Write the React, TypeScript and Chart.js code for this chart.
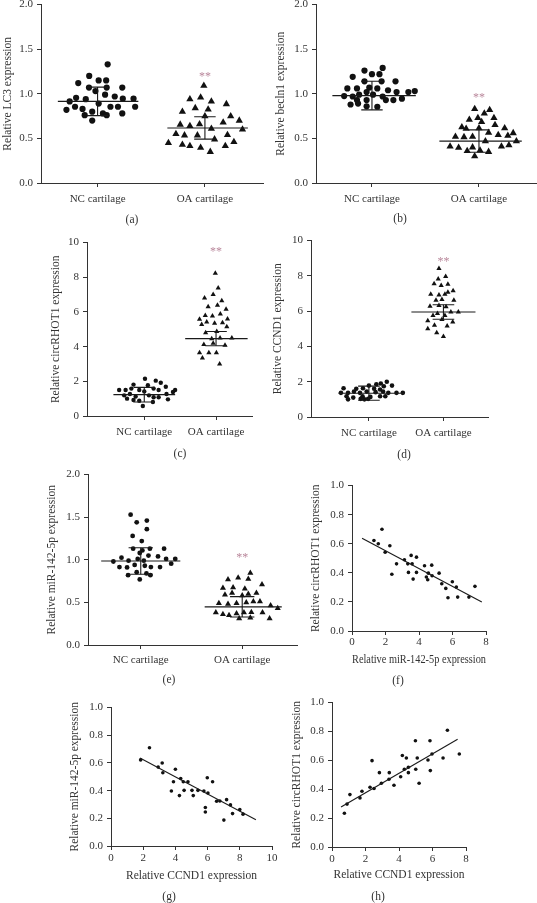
import React, { useEffect, useRef } from 'react';
import { Chart, registerables } from 'chart.js';

Chart.register(...registerables);

// ---------------- DATA ----------------
const groupNames = ['NC cartilage', 'OA cartilage'];

// (a) LC3
const lc3NcValues = [1.33, 1.2, 1.12, 1.15, 1.15, 1.07, 1.07, 1.07, 1.03, 0.99, 0.97, 0.955, 0.94, 0.915, 0.945, 0.945, 0.89, 0.855, 0.83, 0.855, 0.855, 0.855, 0.82, 0.8, 0.78, 0.78, 0.76, 0.76, 0.7];
const lc3NcJitter = [0.094, -0.078, -0.18, 0.01, 0.08, -0.08, 0.085, 0.23, -0.02, 0.07, 0.16, -0.2, -0.11, -0.26, 0.235, 0.335, 0.01, -0.21, -0.14, 0.12, 0.19, 0.35, -0.29, -0.05, 0.05, 0.23, -0.12, 0.085, -0.05];
const lc3OaValues = [1.09, 0.94, 0.96, 0.915, 0.885, 0.84, 0.825, 0.8, 0.75, 0.75, 0.68, 0.655, 0.64, 0.66, 0.7, 0.6, 0.61, 0.55, 0.535, 0.535, 0.54, 0.49, 0.45, 0.43, 0.415, 0.395, 0.415, 0.46, 0.35];
const lc3OaJitter = [-0.01, -0.14, -0.04, 0.06, 0.2, -0.09, 0.03, -0.21, 0, 0.24, 0.17, -0.23, -0.14, -0.05, 0.32, 0.35, 0.06, -0.27, -0.19, -0.07, 0.21, 0.09, -0.34, -0.21, -0.14, -0.04, 0.19, 0.27, 0.05];
const lc3Mean = [0.915, 0.617];
const lc3Sd = [0.16, 0.125];
const lc3Star = 1.22;

// (b) becln1
const beclnNcValues = [1.26, 1.29, 1.19, 1.22, 1.22, 1.14, 1.14, 1.14, 1.06, 1.06, 1.07, 1.06, 1.02, 1.04, 1.02, 1.02, 1.03, 0.975, 0.97, 0.99, 0.99, 0.97, 0.93, 0.93, 0.93, 0.93, 0.945, 0.88, 0.89, 0.86, 0.855];
const beclnNcJitter = [-0.07, 0.1, -0.18, 0, 0.07, -0.07, 0.09, 0.22, -0.23, -0.14, -0.025, 0.05, -0.05, 0.15, 0.23, 0.34, 0.4, -0.26, -0.18, -0.12, 0.01, 0.1, -0.14, -0.05, 0.13, 0.2, 0.28, -0.2, -0.13, -0.05, 0.05];
const beclnOaValues = [0.83, 0.82, 0.78, 0.71, 0.73, 0.73, 0.685, 0.65, 0.625, 0.61, 0.615, 0.615, 0.565, 0.56, 0.52, 0.515, 0.52, 0.54, 0.53, 0.47, 0.47, 0.41, 0.395, 0.4, 0.41, 0.425, 0.36, 0.365, 0.35, 0.3];
const beclnOaJitter = [-0.04, 0.1, 0.05, -0.09, -0.01, 0.14, 0.025, 0.15, -0.16, -0.12, 0, 0.24, 0.09, 0.32, -0.22, -0.14, -0.06, 0.18, 0.27, 0.06, 0.35, -0.27, -0.19, -0.06, 0.21, 0.28, -0.11, 0.01, 0.09, -0.04];
const beclnMean = [0.98, 0.47];
const beclnSd = [0.16, 0.126];
const beclnStar = 0.99;

// (c) circRHOT1
const circNcValues = [2.15, 2.04, 1.92, 1.81, 1.77, 1.69, 1.5, 1.5, 1.58, 1.5, 1.42, 1.58, 1.5, 1.5, 1.38, 1.19, 1.27, 1.12, 1.19, 1.08, 1.27, 1.0, 0.92, 0.88, 1.08, 0.96, 0.81, 0.58];
const circNcJitter = [0.01, 0.16, 0.23, -0.15, 0.05, 0.3, -0.35, -0.26, -0.18, -0.07, 0, 0.13, 0.2, 0.43, 0.4, -0.28, -0.2, -0.12, 0.065, 0.13, 0.31, -0.24, -0.15, -0.07, 0.2, 0.33, 0.12, -0.02];
const circOaValues = [8.23, 7.38, 7.0, 6.8, 6.65, 6.3, 6.38, 6.15, 5.8, 5.77, 5.88, 5.6, 5.58, 5.42, 5.35, 5.38, 5.27, 5.15, 4.8, 4.88, 4.5, 4.46, 4.5, 4.12, 4.19, 4.08, 3.65, 3.65, 3.65, 3.35, 3.0];
const circOaJitter = [-0.01, 0.03, -0.04, -0.16, 0.08, -0.11, 0.02, 0.14, -0.15, -0.05, 0.06, 0.16, -0.23, -0.13, -0.02, 0.09, -0.2, 0.15, -0.145, 0.01, 0.22, -0.06, 0.056, -0.17, -0.04, 0.125, -0.23, -0.1, 0.005, -0.19, 0.05];
const circMean = [1.23, 4.46];
const circSd = [0.42, 0.41];
const circStar = 9.65;

// (d) CCND1
const ccndNcValues = [2.0, 1.9, 1.86, 1.78, 1.74, 1.78, 1.63, 1.6, 1.63, 1.6, 1.56, 1.37, 1.37, 1.44, 1.37, 1.44, 1.41, 1.44, 1.37, 1.37, 1.37, 1.18, 1.1, 1.18, 1.14, 1.18, 1.18, 1.0, 1.03, 1.0, 1.03];
const ccndNcJitter = [0.24, 0.16, 0.1, 0, 0.2, 0.31, -0.34, -0.17, -0.08, 0.07, 0.15, -0.375, -0.28, -0.2, -0.12, -0.03, 0.09, 0.19, 0.26, 0.37, 0.455, -0.3, -0.21, -0.085, 0.02, 0.15, 0.22, -0.28, -0.11, -0.06, -0.01];
const ccndOaValues = [8.42, 7.82, 7.97, 7.56, 7.45, 7.52, 6.96, 6.92, 7.07, 7.15, 6.96, 6.62, 6.66, 6.62, 6.28, 6.32, 6.25, 5.87, 5.95, 5.95, 5.76, 5.76, 5.53, 5.46, 5.38, 5.2, 5.16, 5.0, 4.78, 4.56];
const ccndOaJitter = [-0.06, -0.07, 0.03, -0.125, -0.03, 0.06, -0.17, -0.06, 0.06, 0.13, 0.02, -0.1, -0.02, 0.14, -0.18, -0.06, 0.035, -0.08, 0.1, 0.2, -0.14, 0.02, -0.02, -0.21, 0.125, -0.12, 0.05, -0.21, -0.09, 0];
const ccndMean = [1.35, 5.95];
const ccndSd = [0.4, 0.41];
const ccndStar = 8.95;

// (e) miR-142-5p
const mirNcValues = [1.53, 1.44, 1.46, 1.36, 1.28, 1.22, 1.13, 1.11, 1.13, 1.13, 1.08, 1.05, 1.04, 1.025, 0.99, 1.01, 0.99, 1.01, 1.01, 0.98, 0.955, 0.915, 0.91, 0.94, 0.93, 0.915, 0.915, 0.82, 0.855, 0.84, 0.82, 0.77];
const mirNcJitter = [-0.1, -0.04, 0.06, 0.06, -0.08, 0.01, -0.075, 0.016, 0.09, 0.23, -0.01, 0.076, 0.17, -0.19, -0.12, -0.03, 0.03, 0.25, 0.34, -0.27, 0.3, -0.21, -0.135, -0.06, 0.04, 0.1, 0.19, -0.125, -0.04, 0.056, 0.095, -0.01];
const mirOaValues = [0.846, 0.77, 0.79, 0.776, 0.71, 0.67, 0.675, 0.66, 0.59, 0.61, 0.58, 0.6, 0.61, 0.49, 0.48, 0.49, 0.5, 0.51, 0.51, 0.38, 0.36, 0.35, 0.37, 0.38, 0.385, 0.38, 0.31, 0.32, 0.31, 0.464, 0.432];
const mirOaJitter = [0.08, -0.14, -0.04, 0.06, 0.195, -0.19, -0.09, 0.026, -0.17, -0.1, 0, 0.06, 0.14, -0.23, -0.14, -0.056, 0.04, 0.11, 0.175, -0.26, -0.19, -0.13, -0.056, 0.017, 0.09, 0.2, -0.03, 0.08, 0.27, 0.28, 0.35];
const mirMean = [0.986, 0.448];
const mirSd = [0.155, 0.12];
const mirStar = 1.06;

// (f) miR-142-5p vs circRHOT1
const fX = [1.31, 1.57, 1.79, 1.98, 2.26, 2.38, 2.66, 3.13, 3.33, 3.37, 3.53, 3.59, 3.65, 3.85, 3.85, 4.33, 4.44, 4.52, 4.56, 4.76, 4.78, 5.2, 5.36, 5.6, 5.73, 5.99, 6.23, 6.31, 6.98, 7.34];
const fY = [0.622, 0.6, 0.7, 0.542, 0.586, 0.39, 0.462, 0.49, 0.462, 0.403, 0.52, 0.462, 0.357, 0.508, 0.403, 0.449, 0.371, 0.352, 0.398, 0.453, 0.38, 0.398, 0.325, 0.293, 0.229, 0.339, 0.302, 0.233, 0.233, 0.307];
const fFit = { intercept: 0.674, slope: -0.0613, from: 0.6, to: 7.75 };

// (g) CCND1 vs miR-142-5p
const gX = [1.84, 2.39, 2.93, 3.18, 3.22, 3.75, 3.88, 4.0, 4.25, 4.33, 4.49, 4.54, 4.78, 5.03, 5.11, 5.4, 5.77, 5.86, 5.86, 5.98, 6.02, 6.31, 6.56, 6.76, 7.01, 7.18, 7.42, 7.55, 8.0, 8.2];
const gY = [0.622, 0.71, 0.57, 0.6, 0.529, 0.397, 0.464, 0.555, 0.364, 0.488, 0.464, 0.402, 0.464, 0.402, 0.364, 0.402, 0.397, 0.278, 0.246, 0.493, 0.383, 0.464, 0.323, 0.325, 0.187, 0.335, 0.297, 0.234, 0.263, 0.23];
const gFit = { intercept: 0.748, slope: -0.062, from: 1.8, to: 9.0 };

// (h) CCND1 vs circRHOT1
const hX = [0.74, 0.9, 1.07, 1.67, 1.79, 2.27, 2.39, 2.51, 2.83, 2.95, 3.4, 3.42, 3.7, 4.1, 4.2, 4.32, 4.44, 4.56, 4.56, 4.98, 5.0, 5.09, 5.2, 5.73, 5.85, 5.87, 5.97, 6.63, 6.89, 7.6];
const hY = [0.234, 0.297, 0.363, 0.34, 0.386, 0.414, 0.598, 0.405, 0.515, 0.441, 0.469, 0.515, 0.428, 0.487, 0.634, 0.538, 0.616, 0.515, 0.552, 0.736, 0.538, 0.616, 0.441, 0.602, 0.736, 0.529, 0.644, 0.616, 0.809, 0.644];
const hFit = { intercept: 0.24, slope: 0.0674, from: 0.54, to: 7.5 };

// ---------------- STYLE ----------------
const FONT = '"Liberation Serif", "Times New Roman", serif';
const INK = '#333333';
const DOT = '#111111';
const STAR_COLOR = '#b9879b';
const PAD_TOP = 10;
const PAD_RIGHT = 10;
const TITLE_SIZE = 11.5;
const TITLE_LH = TITLE_SIZE * 1.2;
const TICK_SIZE = 11;

const starPlugin = {
  id: 'sigStar',
  afterDatasetsDraw(chart: any, _args: any, opts: any) {
    if (!opts || opts.y == null) return;
    const { ctx, scales } = chart;
    const px = scales.x.getPixelForValue(opts.x);
    const py = scales.y.getPixelForValue(opts.y);
    ctx.save();
    ctx.fillStyle = STAR_COLOR;
    ctx.font = `12px ${FONT}`;
    ctx.textAlign = 'center';
    ctx.textBaseline = 'alphabetic';
    ctx.fillText('**', px, py + 6);
    ctx.restore();
  },
};

type Geom = { x0: number; x1: number; y0: number; y1: number; yTitleX: number; xTitleY?: number };

function layoutOf(g: Geom) {
  const left = Math.round(g.yTitleX - TITLE_LH / 2);
  const top = Math.round(g.y0) - PAD_TOP;
  const yw = Math.round(g.x0) - left;
  const plotH = Math.round(g.y1) - Math.round(g.y0);
  const xh = g.xTitleY != null ? Math.round(g.xTitleY + TITLE_LH / 2) - Math.round(g.y1) : 30;
  const width = Math.round(g.x1) - left + PAD_RIGHT;
  const height = PAD_TOP + plotH + xh;
  return { left, top, yw, xh, width, height };
}

const axisGrid = { drawOnChartArea: false, tickLength: 4, color: INK, lineWidth: 1 };
const axisBorder = { color: INK, width: 1 };
const tickFont = { family: FONT, size: TICK_SIZE };
const titleFont = { family: FONT, size: TITLE_SIZE };

function lineDs(data: { x: number; y: number }[], width = 1.1) {
  return { data, showLine: true, borderColor: '#1a1a1a', borderWidth: width, pointRadius: 0, pointHoverRadius: 0, fill: false };
}

type DotPanel = {
  geom: Geom; yTitle: string; ncY: number[]; ncJ: number[]; oaY: number[]; oaJ: number[];
  mean: number[]; sd: number[]; star: number; yMax: number; yStep: number; dec: number;
  xMin: number; xMax: number; meanLo: number[]; meanHi: number[]; capHW: number; rC: number; rT: number; tickPad: number;
  label: string; labelPos: [number, number];
};

function dotConfig(p: DotPanel, yw: number, xh: number) {
  const datasets: any[] = [];
  [0, 1].forEach((g) => {
    const m = p.mean[g];
    const s = p.sd[g];
    datasets.push(lineDs([{ x: g + p.meanLo[g], y: m }, { x: g + p.meanHi[g], y: m }]));
    datasets.push(lineDs([{ x: g, y: m - s }, { x: g, y: m + s }]));
    datasets.push(lineDs([{ x: g - p.capHW, y: m + s }, { x: g + p.capHW, y: m + s }]));
    datasets.push(lineDs([{ x: g - p.capHW, y: m - s }, { x: g + p.capHW, y: m - s }]));
  });
  datasets.push({
    data: p.ncY.map((y, i) => ({ x: 0 + p.ncJ[i], y })),
    pointStyle: 'circle', pointRadius: p.rC, backgroundColor: DOT, borderColor: DOT, borderWidth: 0,
  });
  datasets.push({
    data: p.oaY.map((y, i) => ({ x: 1 + p.oaJ[i], y })),
    pointStyle: 'triangle', pointRadius: p.rT, backgroundColor: DOT, borderColor: DOT, borderWidth: 0,
  });
  return {
    type: 'scatter',
    data: { datasets },
    options: {
      responsive: false, animation: false, devicePixelRatio: 1, events: [],
      layout: { padding: { top: PAD_TOP, right: PAD_RIGHT, left: 0, bottom: 0 } },
      plugins: { legend: { display: false }, tooltip: { enabled: false }, sigStar: { x: 1, y: p.star } },
      scales: {
        x: {
          type: 'linear', min: p.xMin, max: p.xMax, bounds: 'data',
          afterBuildTicks: (s: any) => { s.ticks = [{ value: 0 }, { value: 1 }]; },
          afterFit: (s: any) => { s.height = xh; },
          ticks: { callback: (v: any) => groupNames[Math.round(v)] ?? '', font: tickFont, color: INK, padding: p.tickPad, maxRotation: 0, autoSkip: false },
          grid: axisGrid, border: axisBorder,
        },
        y: {
          type: 'linear', min: 0, max: p.yMax,
          afterFit: (s: any) => { s.width = yw; },
          ticks: { stepSize: p.yStep, callback: (v: any) => Number(v).toFixed(p.dec), font: tickFont, color: INK, padding: 4 },
          title: { display: true, text: p.yTitle, font: titleFont, color: INK, padding: 0 },
          grid: axisGrid, border: axisBorder,
        },
      },
    },
    plugins: [starPlugin],
  };
}

type ScatterPanel = {
  geom: Geom; yTitle: string; xTitle: string; xs: number[]; ys: number[];
  fit: { intercept: number; slope: number; from: number; to: number };
  xMax: number; r: number; tickPad: number; label: string; labelPos: [number, number];
};

function scatterConfig(p: ScatterPanel, yw: number, xh: number) {
  const f = p.fit;
  const datasets: any[] = [
    lineDs([{ x: f.from, y: f.intercept + f.slope * f.from }, { x: f.to, y: f.intercept + f.slope * f.to }], 1.1),
    { data: p.xs.map((x, i) => ({ x, y: p.ys[i] })), pointStyle: 'circle', pointRadius: p.r, backgroundColor: DOT, borderColor: DOT, borderWidth: 0 },
  ];
  return {
    type: 'scatter',
    data: { datasets },
    options: {
      responsive: false, animation: false, devicePixelRatio: 1, events: [],
      layout: { padding: { top: PAD_TOP, right: PAD_RIGHT, left: 0, bottom: 0 } },
      plugins: { legend: { display: false }, tooltip: { enabled: false } },
      scales: {
        x: {
          type: 'linear', min: 0, max: p.xMax, bounds: 'data',
          afterFit: (s: any) => { s.height = xh; },
          ticks: { stepSize: 2, font: tickFont, color: INK, padding: p.tickPad, maxRotation: 0 },
          title: { display: true, text: p.xTitle, font: titleFont, color: INK, padding: 0 },
          grid: axisGrid, border: axisBorder,
        },
        y: {
          type: 'linear', min: 0, max: 1,
          afterFit: (s: any) => { s.width = yw; },
          ticks: { stepSize: 0.2, callback: (v: any) => Number(v).toFixed(1), font: tickFont, color: INK, padding: 4 },
          title: { display: true, text: p.yTitle, font: titleFont, color: INK, padding: 0 },
          grid: axisGrid, border: axisBorder,
        },
      },
    },
  };
}

// ---------------- PANELS ----------------
const dotPanels: DotPanel[] = [
  {
    geom: { x0: 41, x1: 263, y0: 4, y1: 183, yTitleX: 8 }, yTitle: 'Relative LC3 expression',
    ncY: lc3NcValues, ncJ: lc3NcJitter, oaY: lc3OaValues, oaJ: lc3OaJitter, mean: lc3Mean, sd: lc3Sd, star: lc3Star,
    yMax: 2, yStep: 0.5, dec: 1, xMin: -0.527, xMax: 1.541, meanLo: [-0.37, -0.35], meanHi: [0.38, 0.4], capHW: 0.1,
    rC: 3.1, rT: 4.2, tickPad: 6, label: '(a)', labelPos: [132, 220],
  },
  {
    geom: { x0: 316, x1: 536, y0: 4, y1: 183, yTitleX: 281 }, yTitle: 'Relative becln1 expression',
    ncY: beclnNcValues, ncJ: beclnNcJitter, oaY: beclnOaValues, oaJ: beclnOaJitter, mean: beclnMean, sd: beclnSd, star: beclnStar,
    yMax: 2, yStep: 0.5, dec: 1, xMin: -0.523, xMax: 1.533, meanLo: [-0.37, -0.37], meanHi: [0.41, 0.4], capHW: 0.1,
    rC: 3.1, rT: 4.2, tickPad: 6, label: '(b)', labelPos: [400, 219],
  },
  {
    geom: { x0: 87, x1: 252, y0: 242.3, y1: 415.7, yTitleX: 56 }, yTitle: 'Relative circRHOT1 expression',
    ncY: circNcValues, ncJ: circNcJitter, oaY: circOaValues, oaJ: circOaJitter, mean: circMean, sd: circSd, star: circStar,
    yMax: 10, yStep: 2, dec: 0, xMin: -0.798, xMax: 1.501, meanLo: [-0.43, -0.43], meanHi: [0.43, 0.44], capHW: 0.15,
    rC: 2.2, rT: 3.0, tickPad: 6, label: '(c)', labelPos: [180, 454],
  },
  {
    geom: { x0: 310.7, x1: 488, y0: 239.7, y1: 417.3, yTitleX: 278 }, yTitle: 'Relative CCND1 expression',
    ncY: ccndNcValues, ncJ: ccndNcJitter, oaY: ccndOaValues, oaJ: ccndOaJitter, mean: ccndMean, sd: ccndSd, star: ccndStar,
    yMax: 10, yStep: 2, dec: 0, xMin: -0.777, xMax: 1.598, meanLo: [-0.41, -0.43], meanHi: [0.48, 0.43], capHW: 0.145,
    rC: 2.3, rT: 3.0, tickPad: 6, label: '(d)', labelPos: [404, 455],
  },
  {
    geom: { x0: 88.3, x1: 297, y0: 474, y1: 645, yTitleX: 52 }, yTitle: 'Relative miR-142-5p expression',
    ncY: mirNcValues, ncJ: mirNcJitter, oaY: mirOaValues, oaJ: mirOaJitter, mean: mirMean, sd: mirSd, star: mirStar,
    yMax: 2, yStep: 0.5, dec: 1, xMin: -0.52, xMax: 1.54, meanLo: [-0.39, -0.37], meanHi: [0.39, 0.39], capHW: 0.12,
    rC: 2.4, rT: 3.5, tickPad: 5, label: '(e)', labelPos: [169, 680],
  },
];

const scatterPanels: ScatterPanel[] = [
  {
    geom: { x0: 352, x1: 486.3, y0: 485, y1: 630.7, yTitleX: 316, xTitleY: 660 },
    yTitle: 'Relative circRHOT1 expression', xTitle: 'Relative miR-142-5p expression',
    xs: fX, ys: fY, fit: fFit, xMax: 8, r: 1.8, tickPad: 1, label: '(f)', labelPos: [398, 681],
  },
  {
    geom: { x0: 110.7, x1: 272.3, y0: 706.7, y1: 846, yTitleX: 75, xTitleY: 875.7 },
    yTitle: 'Relative miR-142-5p expression', xTitle: 'Relative CCND1 expression',
    xs: gX, ys: gY, fit: gFit, xMax: 10, r: 1.8, tickPad: 2, label: '(g)', labelPos: [169, 897],
  },
  {
    geom: { x0: 332.3, x1: 466.3, y0: 701.7, y1: 846.7, yTitleX: 297.3, xTitleY: 875 },
    yTitle: 'Relative circRHOT1 expression', xTitle: 'Relative CCND1 expression',
    xs: hX, ys: hY, fit: hFit, xMax: 8, r: 1.8, tickPad: 1.5, label: '(h)', labelPos: [378, 897],
  },
];

// ---------------- COMPONENTS ----------------
function ChartBox({ geom, build }: { geom: Geom; build: (yw: number, xh: number) => any }) {
  const ref = useRef<HTMLCanvasElement>(null);
  const lay = layoutOf(geom);
  useEffect(() => {
    if (!ref.current) return;
    const chart = new Chart(ref.current, build(lay.yw, lay.xh));
    return () => chart.destroy();
  }, []);
  return (
    <canvas
      ref={ref}
      width={lay.width}
      height={lay.height}
      style={{ position: 'absolute', left: lay.left, top: lay.top, width: lay.width, height: lay.height, display: 'block' }}
    />
  );
}

function PanelLabels({ items }: { items: { text: string; pos: [number, number] }[] }) {
  const ref = useRef<HTMLCanvasElement>(null);
  useEffect(() => {
    const c = ref.current;
    if (!c) return;
    const ctx = c.getContext('2d');
    if (!ctx) return;
    ctx.clearRect(0, 0, c.width, c.height);
    ctx.fillStyle = INK;
    ctx.font = `11.5px ${FONT}`;
    ctx.textAlign = 'center';
    ctx.textBaseline = 'middle';
    items.forEach((it) => ctx.fillText(it.text, it.pos[0], it.pos[1]));
  }, []);
  return (
    <canvas
      ref={ref}
      width={537}
      height={903}
      style={{ position: 'absolute', left: 0, top: 0, width: 537, height: 903, pointerEvents: 'none' }}
    />
  );
}

export default function App() {
  const labels = [...dotPanels, ...scatterPanels].map((p) => ({ text: p.label, pos: p.labelPos }));
  return (
    <div style={{ position: 'absolute', left: 0, top: 0, width: 537, height: 903, overflow: 'hidden', background: '#fff' }}>
      {dotPanels.map((p) => (
        <ChartBox key={p.label} geom={p.geom} build={(yw, xh) => dotConfig(p, yw, xh)} />
      ))}
      {scatterPanels.map((p) => (
        <ChartBox key={p.label} geom={p.geom} build={(yw, xh) => scatterConfig(p, yw, xh)} />
      ))}
      <PanelLabels items={labels} />
    </div>
  );
}
